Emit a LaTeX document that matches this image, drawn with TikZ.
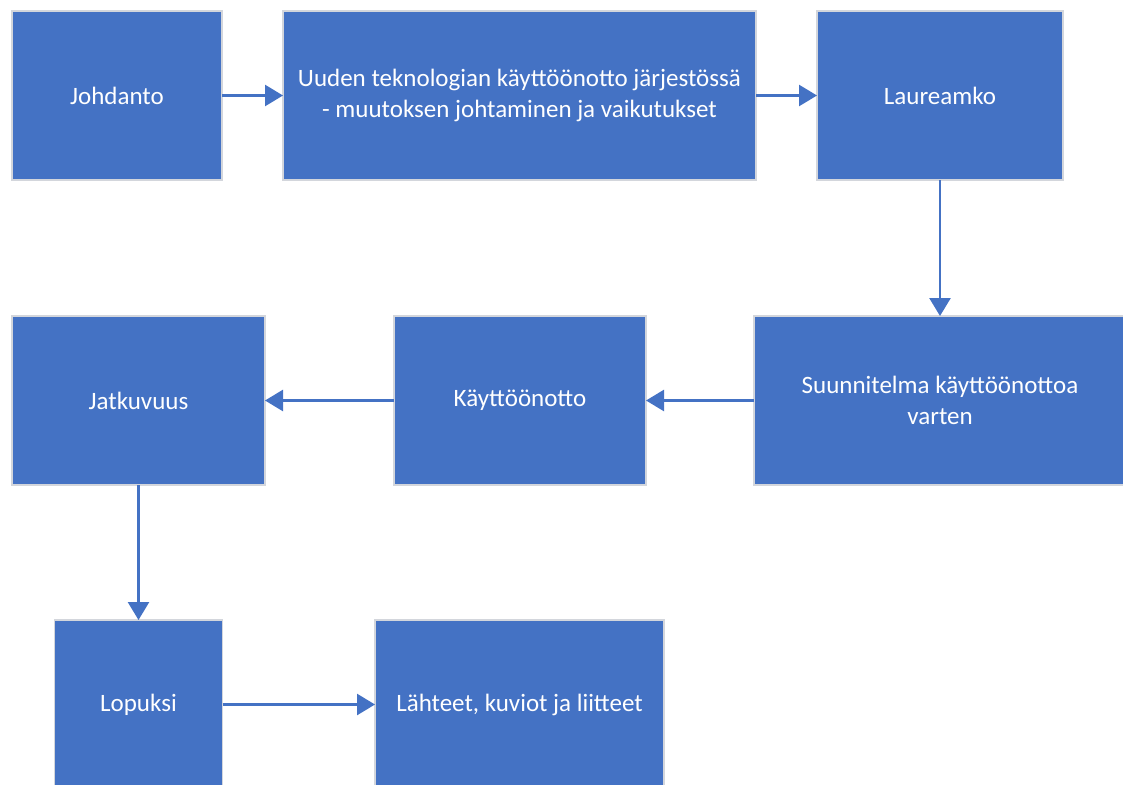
\documentclass[tikz,border=0pt]{standalone}
\usepackage{fontspec}
\setmainfont{Carlito}
\usetikzlibrary{arrows.meta}
\definecolor{boxblue}{HTML}{4472C4}
\definecolor{boxedge}{HTML}{D3D6DC}
\begin{document}
\begin{tikzpicture}[x=1pt,y=-1pt,
  box/.style={rectangle, fill=boxblue, draw=boxedge, line width=1.6pt,
    text=white, align=center, inner sep=0pt, outer sep=0pt,
    font=\fontsize{25}{31}\selectfont},
  arr/.style={draw=boxblue, line width=2.6pt,
    -{Triangle[length=18pt,width=21pt]}}]
\useasboundingbox (0,0) rectangle (1123,784);
\clip (0,0) rectangle (1123,784);
% top row
\node[box, minimum width=210pt, minimum height=169pt] (intro) at (117,95.5) {Johdanto};
\node[box, minimum width=473pt, minimum height=169pt] (tech) at (519.5,95.5)
  {Uuden teknologian käyttöönotto järjestössä\\- muutoksen johtaminen ja vaikutukset};
\node[box, minimum width=246pt, minimum height=169pt] (laurea) at (940,95.5) {Laureamko};
% middle row
\node[box, minimum width=372pt, minimum height=169pt] (plan) at (940,400.5)
  {Suunnitelma käyttöönottoa\\varten};
\node[box, minimum width=252pt, minimum height=169pt] (deploy) at (520,400.5) {Käyttöönotto};
\node[box, minimum width=253pt, minimum height=169pt] (cont) at (138.5,400.5) {Jatkuvuus};
% bottom row
\node[box, minimum width=168pt, minimum height=169pt] (end) at (138.5,704.5) {Lopuksi};
\node[box, minimum width=289pt, minimum height=169pt] (refs) at (519.5,704.5) {Lähteet, kuviot ja liitteet};
% connectors
\draw[arr] (intro.east) -- (tech.west);
\draw[arr] (tech.east) -- (laurea.west);
\draw[arr] (laurea.south) -- (plan.north);
\draw[arr] (plan.west) -- (deploy.east);
\draw[arr] (deploy.west) -- (cont.east);
\draw[arr] (cont.south) -- (end.north);
\draw[arr] (end.east) -- (refs.west);
\end{tikzpicture}
\end{document}
